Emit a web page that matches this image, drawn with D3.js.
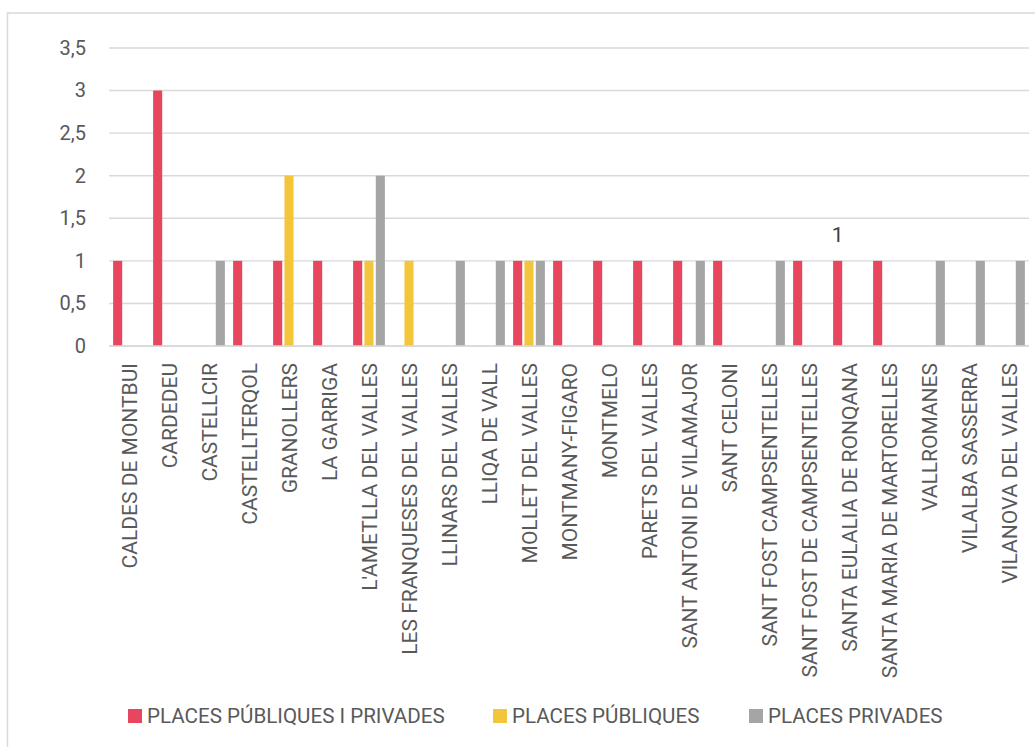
<!DOCTYPE html>
<html>
<head>
<meta charset="utf-8">
<script src="https://cdn.jsdelivr.net/npm/d3@7"></script>
<style>
  html, body { margin: 0; padding: 0; background: #ffffff; }
  svg { display: block; font-family: Roboto, "Liberation Sans", sans-serif; }
</style>
</head>
<body>
<svg id="chart" width="1035" height="747"></svg>
<script>
// Municipalities (x-axis categories)
const categories = [
  "CALDES DE MONTBUI", "CARDEDEU", "CASTELLCIR", "CASTELLTERQOL", "GRANOLLERS",
  "LA GARRIGA", "L'AMETLLA DEL VALLES", "LES FRANQUESES DEL VALLES", "LLINARS DEL VALLES",
  "LLIQA DE VALL", "MOLLET DEL VALLES", "MONTMANY-FIGARO", "MONTMELO", "PARETS DEL VALLES",
  "SANT ANTONI DE VILAMAJOR", "SANT CELONI", "SANT FOST CAMPSENTELLES",
  "SANT FOST DE CAMPSENTELLES", "SANTA EULALIA DE RONQANA", "SANTA MARIA DE MARTORELLES",
  "VALLROMANES", "VILALBA SASSERRA", "VILANOVA DEL VALLES"
];

// Series names
const seriesNames = ["PLACES PÚBLIQUES I PRIVADES", "PLACES PÚBLIQUES", "PLACES PRIVADES"];

// Values per municipality, one array per series (null = no bar)
const publiquesIPrivades = [1, 3, null, 1, 1, 1, 1, null, null, null, 1, 1, 1, 1, 1, 1, null, 1, 1, 1, null, null, null];
const publiques          = [null, null, null, null, 2, null, 1, 1, null, null, 1, null, null, null, null, null, null, null, null, null, null, null, null];
const privades           = [null, null, 1, null, null, null, 2, null, 1, 1, 1, null, null, null, 1, null, 1, null, null, null, 1, 1, 1];

// Y-axis ticks and their labels
const yTicks = [0, 0.5, 1, 1.5, 2, 2.5, 3, 3.5];
const yTickLabels = ["0", "0,5", "1", "1,5", "2", "2,5", "3", "3,5"];

// The single data label shown on the chart
const labelCategory = "SANTA EULALIA DE RONQANA";
const labelSeries = 0;

const colors = ["#E8455E", "#F2C53B", "#A5A5A5"];
const textColor = "#595959";
const gridColor = "#D9D9D9";

const svg = d3.select("#chart");

// chart frame
svg.append("rect")
  .attr("x", 7.5).attr("y", 13)
  .attr("width", 1100).attr("height", 800)
  .attr("fill", "none")
  .attr("stroke", gridColor)
  .attr("stroke-width", 1.5);

const plot = { left: 109, right: 1029, top: 48, bottom: 346 };

const x0 = d3.scaleBand()
  .domain(categories)
  .range([plot.left, plot.right])
  .padding(0);

const x1 = d3.scaleBand()
  .domain(d3.range(seriesNames.length))
  .range([-17, 17])
  .padding(0);

const y = d3.scaleLinear()
  .domain([0, 3.5])
  .range([plot.bottom, plot.top]);

// horizontal gridlines
svg.append("g")
  .selectAll("line")
  .data(yTicks)
  .join("line")
  .attr("x1", plot.left)
  .attr("x2", plot.right)
  .attr("y1", d => y(d))
  .attr("y2", d => y(d))
  .attr("stroke", gridColor)
  .attr("stroke-width", 1.4);

// y-axis tick labels
const yAxis = d3.axisLeft(y)
  .tickValues(yTicks)
  .tickFormat((d, i) => yTickLabels[i])
  .tickSize(0)
  .tickPadding(23);

const yg = svg.append("g")
  .attr("transform", `translate(${plot.left},0)`)
  .call(yAxis);
yg.select(".domain").remove();
yg.selectAll("text")
  .attr("fill", textColor)
  .style("font-size", "20px")
  .style("font-family", "Roboto, 'Liberation Sans', sans-serif");

// bars
const allSeries = [publiquesIPrivades, publiques, privades];
const barData = [];
allSeries.forEach((vals, s) => {
  vals.forEach((v, i) => {
    if (v !== null) barData.push({ cat: categories[i], s, v });
  });
});

const barWidth = x1.bandwidth() * 0.8;

svg.append("g")
  .selectAll("rect")
  .data(barData)
  .join("rect")
  .attr("x", d => x0(d.cat) + x0.bandwidth() / 2 + x1(d.s) + (x1.bandwidth() - barWidth) / 2)
  .attr("y", d => y(d.v))
  .attr("width", barWidth)
  .attr("height", d => y(0) - y(d.v))
  .attr("fill", d => colors[d.s]);

// x-axis line
svg.append("line")
  .attr("x1", plot.left).attr("x2", plot.right)
  .attr("y1", y(0)).attr("y2", y(0))
  .attr("stroke", gridColor)
  .attr("stroke-width", 1.6);

// x-axis category labels, rotated
const xAxis = d3.axisBottom(x0).tickSize(0).tickPadding(0);
const xg = svg.append("g")
  .attr("transform", `translate(0,${plot.bottom})`)
  .call(xAxis);
xg.select(".domain").remove();
xg.selectAll("text")
  .attr("fill", textColor)
  .style("font-size", "21px")
  .style("font-family", "Roboto, 'Liberation Sans', sans-serif")
  .attr("text-anchor", "end")
  .attr("transform", "rotate(-90)")
  .attr("x", -17)
  .attr("y", 0)
  .attr("dy", "0.36em");

// data label
const labelIdx = categories.indexOf(labelCategory);
const labelValue = allSeries[labelSeries][labelIdx];
svg.append("text")
  .attr("x", x0(labelCategory) + x0.bandwidth() / 2 + x1(labelSeries) + x1.bandwidth() / 2)
  .attr("y", y(labelValue) - 19)
  .attr("text-anchor", "middle")
  .attr("fill", "#404040")
  .style("font-size", "21px")
  .text(labelValue);

// legend
const legendX = [128, 493, 749];
const legend = svg.append("g")
  .selectAll("g")
  .data(seriesNames)
  .join("g")
  .attr("transform", (d, i) => `translate(${legendX[i]},709)`);

legend.append("rect")
  .attr("width", 14)
  .attr("height", 14)
  .attr("fill", (d, i) => colors[i]);

legend.append("text")
  .attr("x", 19)
  .attr("y", 14)
  .attr("fill", textColor)
  .style("font-size", "20.6px")
  .text(d => d);
</script>
</body>
</html>
